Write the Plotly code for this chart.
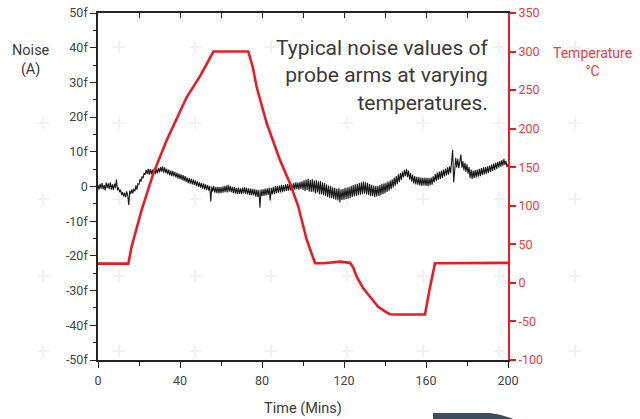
import plotly.graph_objects as go

# ---------------- DATA ----------------
noise_t = [i * 0.5 for i in range(0, 401)]
noise_fA = [
    # 0 - 9.5
    0.5, -0.9, 0.8, -0.6, 1.0, -0.8, 0.4, -1.1, 1.1, -0.5,
    0.9, -0.7, 1.2, -0.9, 0.6, -1.0, 0.8, -0.4, 2.0, -1.1,
    # 10 - 19.5
    -0.3, -1.6, -0.9, -2.4, -1.6, -2.9, -1.8, -3.1, -1.4, -2.6,
    -5.3, -1.2, -2.2, -0.8, -2.0, -0.6, -1.4, 0.3, -0.9, 0.8,
    # 20 - 29.5
    0.6, 2.1, 1.4, 2.9, 2.4, 3.9, 3.4, 4.8, 3.6, 5.1,
    3.4, 5.0, 3.5, 4.9, 3.3, 5.2, 3.6, 5.0, 3.8, 5.4,
    # 30 - 39.5
    4.1, 5.6, 4.3, 5.8, 4.0, 5.5, 3.9, 5.1, 3.5, 4.9,
    3.2, 4.6, 3.0, 4.5, 2.9, 4.2, 2.6, 3.9, 2.3, 3.7,
    # 40 - 49.5
    2.1, 3.5, 1.9, 3.3, 1.6, 3.0, 1.3, 2.6, 1.0, 2.4,
    0.8, 2.2, 0.6, 2.0, 0.5, 1.8, 0.2, 1.5, -0.1, 1.2,
    # 50 - 59.5
    -0.3, 1.0, -0.6, 0.8, -0.8, 0.6, -1.0, 0.4, -1.2, 0.2,
    -4.3, 0.0, -1.5, 0.1, -1.8, -0.2, -1.9, -0.1, -2.0, -0.2,
    # 60 - 69.5
    -1.9, -0.1, -1.8, 0.1, -1.6, 0.3, -1.7, 0.5, -1.5, 0.2,
    -1.6, -0.1, -1.9, -0.2, -2.0, -0.4, -2.2, -0.3, -2.1, -0.5,
    # 70 - 79.5
    -2.2, -0.3, -2.0, -0.2, -2.1, -0.4, -2.3, -0.5, -2.4, -0.6,
    -2.5, -0.7, -2.6, -0.8, -2.9, -0.9, -3.0, -1.0, -6.1, -0.9,
    # 80 - 89.5
    -2.8, -0.8, -2.7, -0.6, -2.6, -0.5, -2.4, -0.3, -4.0, -0.4,
    -2.3, -0.1, -2.2, 0.1, -2.0, 0.2, -1.8, 0.3, -1.7, 0.5,
    # 90 - 99.5
    -1.6, 0.4, -1.4, 0.6, -1.3, 0.7, -1.2, 0.9, -1.1, 0.8,
    -1.0, 1.0, -0.9, 1.2, -0.8, 1.1, -0.9, 1.3, -0.7, 1.5,
    # 100 - 109.5
    -1.0, 1.8, -1.3, 2.0, -1.1, 2.2, -1.4, 1.9, -1.6, 2.1,
    -1.5, 1.7, -2.0, 1.8, -1.7, 1.5, -2.2, 1.6, -2.3, 1.2,
    # 110 - 119.5
    -2.5, 1.0, -2.7, 0.6, -3.0, 0.3, -3.2, 0.1, -3.4, -0.2,
    -3.6, -0.4, -3.8, -0.6, -4.0, -0.5, -4.6, -0.8, -3.9, -0.7,
    # 120 - 129.5
    -3.8, -0.4, -3.6, -0.3, -3.5, -0.1, -3.3, 0.2, -3.1, 0.4,
    -2.9, 0.6, -2.7, 0.8, -2.5, 1.0, -2.4, 1.2, -2.2, 1.4,
    # 130 - 139.5
    -2.1, 1.2, -2.3, 1.0, -2.5, 0.7, -2.7, 0.5, -2.8, 0.3,
    -3.0, 0.1, -2.9, 0.2, -2.7, 0.4, -2.5, 0.7, -2.2, 0.9,
    # 140 - 149.5
    -1.9, 1.1, -1.6, 1.4, -1.2, 1.7, -0.8, 2.1, -0.3, 2.6,
    0.2, 3.0, 0.7, 3.5, 1.3, 3.9, 1.9, 4.3, 2.6, 4.7,
    # 150 - 159.5
    3.0, 5.1, 2.7, 4.6, 2.0, 3.9, 1.4, 3.4, 0.9, 3.0,
    0.6, 2.8, 0.5, 2.7, 0.3, 2.6, 0.2, 2.5, 0.3, 2.6,
    # 160 - 169.5
    0.2, 2.5, 0.1, 2.4, 0.3, 2.6, 0.5, 2.9, 1.2, 3.6,
    1.6, 4.0, 1.9, 4.3, 2.2, 4.6, 2.5, 4.9, 2.9, 5.2,
    # 170 - 179.5
    3.2, 5.5, 3.4, 5.8, 3.9, 6.4, 10.6, 1.2, 5.6, 8.3,
    5.5, 7.9, 5.3, 7.6, 9.2, 5.4, 7.3, 4.6, 6.8, 4.2,
    # 180 - 189.5
    6.4, 3.7, 5.6, 2.5, 4.9, 2.2, 4.6, 2.4, 4.7, 2.6,
    4.9, 2.8, 5.1, 3.0, 5.3, 3.3, 5.5, 3.5, 5.6, 3.7,
    # 190 - 199.5
    5.8, 3.9, 6.0, 4.2, 6.3, 4.5, 6.6, 4.8, 6.8, 5.1,
    7.1, 5.4, 7.3, 5.7, 7.6, 6.0, 8.0, 6.2, 7.4, 5.6,
    # 200
    6.4,
]

temp_t = [0, 14.8, 16.4, 21.3, 27, 33.5, 43.3, 50, 56.3, 73.3, 75.5, 77.4, 82.3,
          88.8, 93.7, 97.7, 101.8, 105.9, 110, 118, 122.9, 124.5, 126.2, 129.4,
          132.7, 136.7, 140, 142.4, 145, 159.5, 162, 164.4, 200]
temp_C = [25, 25, 47, 94.6, 142, 185, 241, 269, 300, 300, 280, 254, 207,
          159, 129, 99, 56, 25.5, 25.5, 27.6, 26, 20, 8, -7,
          -18, -31, -37, -40.6, -41, -41, -5, 25.5, 26]

noise_tickvals = [-50, -40, -30, -20, -10, 0, 10, 20, 30, 40, 50]
noise_ticktext = ["-50f", "-40f", "-30f", "-20f", "-10f", "0",
                  "10f", "20f", "30f", "40f", "50f"]
temp_tickvals = [-100, -50, 0, 50, 100, 150, 200, 250, 300, 350]
temp_ticktext = ["-100", "-50", "0", "50", "100", "150", "200", "250", "300", "350"]
time_tickvals = [0, 40, 80, 120, 160, 200]
time_ticktext = ["0", "40", "80", "120", "160", "200"]

title_text = "Typical noise values of<br>probe arms at varying<br>temperatures."

# ---------------- LAYOUT CONSTANTS ----------------
W, H = 640, 419
# plot area in screenshot px
SL, SR, ST, SB = 98, 508, 13, 360
L, R, T, B = SL, SR, ST, SB
FONT = "Roboto"
RED = "#e81c24"
RED_TXT = "#ef3b3f"
GREY_TXT = "#3a3a3a"

def px2paper(px, py):
    """screenshot pixel -> paper coordinates"""
    return (px - SL) / (SR - SL), (SB - py) / (SB - ST)

fig = go.Figure()

fig.add_trace(go.Scatter(
    x=noise_t, y=noise_fA, mode="lines",
    line=dict(color="#1a1a1a", width=1.1),
    yaxis="y", xaxis="x", showlegend=False, hoverinfo="skip"))

fig.add_trace(go.Scatter(
    x=temp_t, y=temp_C, mode="lines",
    line=dict(color=RED, width=2.6),
    yaxis="y2", xaxis="x", showlegend=False, hoverinfo="skip"))

# helper invisible trace for the top mirror axis
fig.add_trace(go.Scatter(
    x=[time_tickvals[0], time_tickvals[-1]], y=[None, None], mode="lines",
    xaxis="x2", yaxis="y", showlegend=False, hoverinfo="skip"))

# background decorative crosses
shapes = []
cross_cols = [43, 119, 195, 271, 347, 423, 499, 575]
cross_rows = [47, 123, 199, 276, 351]
arm = 6.5
for cx in cross_cols:
    for cy in cross_rows:
        x0, y0 = px2paper(cx - arm, cy)
        x1, y1 = px2paper(cx + arm, cy)
        shapes.append(dict(type="line", xref="paper", yref="paper",
                           x0=x0, y0=y0, x1=x1, y1=y1, layer="below",
                           line=dict(color="#eeeeee", width=1.5)))
        x0, y0 = px2paper(cx, cy - arm)
        x1, y1 = px2paper(cx, cy + arm)
        shapes.append(dict(type="line", xref="paper", yref="paper",
                           x0=x0, y0=y0, x1=x1, y1=y1, layer="below",
                           line=dict(color="#eeeeee", width=1.5)))

# partial logo at bottom
pts = [(433, 413), (490, 413), (503, 414.5), (516, 420), (433, 420)]
pp = [px2paper(a, b) for a, b in pts]
path = "M {} {} L {} {} Q {} {} {} {} L {} {} Z".format(
    pp[0][0], pp[0][1], pp[1][0], pp[1][1], pp[2][0], pp[2][1],
    pp[3][0], pp[3][1], pp[4][0], pp[4][1])
shapes.append(dict(type="path", xref="paper", yref="paper", path=path,
                   fillcolor="#3d4e5a", line=dict(width=0), layer="above"))

annotations = []
ax, ay = px2paper(491, 75)
annotations.append(dict(text=title_text, xref="paper", yref="paper", x=ax, y=ay,
                        xanchor="right", yanchor="middle", align="right", showarrow=False,
                        font=dict(family=FONT, size=21, color=GREY_TXT)))
ax, ay = px2paper(31, 60)
annotations.append(dict(text="Noise<br>(A)", xref="paper", yref="paper", x=ax, y=ay,
                        xanchor="center", yanchor="middle", align="center", showarrow=False,
                        font=dict(family=FONT, size=14.5, color=GREY_TXT)))
ax, ay = px2paper(592, 62)
annotations.append(dict(text="Temperature<br>°C", xref="paper", yref="paper", x=ax, y=ay,
                        xanchor="center", yanchor="middle", align="center", showarrow=False,
                        font=dict(family=FONT, size=14, color=RED_TXT)))
ax, ay = px2paper(303, 408)
annotations.append(dict(text="Time (Mins)", xref="paper", yref="paper", x=ax, y=ay,
                        xanchor="center", yanchor="middle", showarrow=False,
                        font=dict(family=FONT, size=14.5, color=GREY_TXT)))

tickfont = dict(family=FONT, size=12.5, color="#444444")

fig.update_layout(
    width=W, height=H,
    margin=dict(l=L, r=W - R, t=T, b=H - B, pad=0, autoexpand=False),
    paper_bgcolor="white", plot_bgcolor="rgba(0,0,0,0)",
    showlegend=False, hovermode=False,
    shapes=shapes, annotations=annotations,
    xaxis=dict(range=[0, 200], tickmode="array", tickvals=time_tickvals, ticktext=time_ticktext,
               ticks="outside", ticklen=6, tickwidth=1.3, tickcolor="#222",
               minor=dict(tickmode="linear", tick0=0, dtick=20, ticks="outside", ticklen=4,
                          tickwidth=1.3, tickcolor="#222", showgrid=False),
               showline=True, linecolor="#222", linewidth=1.5, showgrid=False, zeroline=False,
               tickfont=tickfont, ticklabelstandoff=2, ticklabeloverflow="allow"),
    xaxis2=dict(range=[0, 200], overlaying="x", side="top", tickmode="linear", tick0=0, dtick=20,
                ticks="inside", ticklen=5, tickwidth=1.3, tickcolor="#222",
                showticklabels=False, showline=True, linecolor="#222", linewidth=1.5,
                showgrid=False, zeroline=False),
    yaxis=dict(range=[-50, 50], tickmode="array", tickvals=noise_tickvals, ticktext=noise_ticktext,
               ticks="outside", ticklen=6, tickwidth=1.3, tickcolor="#222",
               minor=dict(tickmode="linear", tick0=0, dtick=5, ticks="outside", ticklen=3,
                          tickwidth=1.3, tickcolor="#222", showgrid=False),
               showline=True, linecolor="#222", linewidth=1.5, showgrid=False, zeroline=False,
               tickfont=tickfont, ticklabeloverflow="allow"),
    yaxis2=dict(range=[-100, 350], overlaying="y", side="right", tickmode="array",
                tickvals=temp_tickvals, ticktext=temp_ticktext,
                ticks="outside", ticklen=6, tickwidth=1.5, tickcolor=RED,
                showline=True, linecolor=RED, linewidth=2, showgrid=False, zeroline=False,
                tickfont=dict(family=FONT, size=12.5, color=RED_TXT), ticklabeloverflow="allow"),
)

# remove the browser's default page margin so the figure fills the window exactly
fig.write_html("out.html", config={"displayModeBar": False},
               post_script="document.body.style.margin='0';document.body.style.padding='0';")
